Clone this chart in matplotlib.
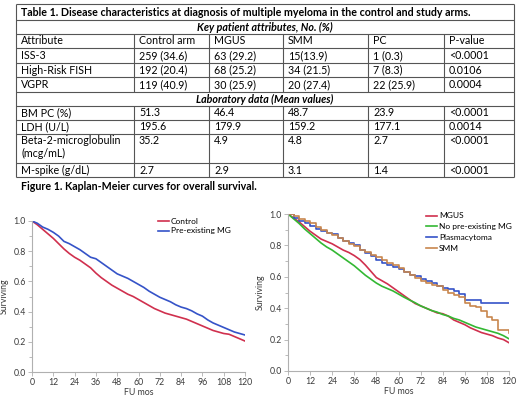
import matplotlib.pyplot as plt
import numpy as np

plt.rcParams['font.family'] = ['Lato', 'DejaVu Sans']

# ---------------- table data ----------------
title = 'Table 1. Disease characteristics at diagnosis of multiple myeloma in the control and study arms.'
section1 = 'Key patient attributes, No. (%)'
section2 = 'Laboratory data (Mean values)'
header = ['Attribute', 'Control arm', 'MGUS', 'SMM', 'PC', 'P-value']
rows1 = [
    ['ISS-3', '259 (34.6)', '63 (29.2)', '15(13.9)', '1 (0.3)', '<0.0001'],
    ['High-Risk FISH', '192 (20.4)', '68 (25.2)', '34 (21.5)', '7 (8.3)', '0.0106'],
    ['VGPR', '119 (40.9)', '30 (25.9)', '20 (27.4)', '22 (25.9)', '0.0004'],
]
rows2 = [
    ['BM PC (%)', '51.3', '46.4', '48.7', '23.9', '<0.0001'],
    ['LDH (U/L)', '195.6', '179.9', '159.2', '177.1', '0.0014'],
    ['Beta-2-microglobulin\n(mcg/mL)', '35.2', '4.9', '4.8', '2.7', '<0.0001'],
    ['M-spike (g/dL)', '2.7', '2.9', '3.1', '1.4', '<0.0001'],
]
caption = 'Figure 1. Kaplan-Meier curves for overall survival.'

# ---------------- survival data (every 3 months) ----------------
months = np.arange(0, 121, 3)

control = [1.0, 0.975, 0.945, 0.915, 0.885, 0.85, 0.815, 0.785, 0.76, 0.74, 0.715,
           0.69, 0.655, 0.625, 0.60, 0.575, 0.555, 0.535, 0.515, 0.50, 0.48,
           0.46, 0.44, 0.42, 0.405, 0.39, 0.38, 0.37, 0.36, 0.35, 0.335,
           0.32, 0.305, 0.29, 0.275, 0.265, 0.255, 0.25, 0.235, 0.22, 0.205]
pre_mg = [1.0, 0.985, 0.96, 0.945, 0.925, 0.90, 0.865, 0.85, 0.83, 0.81, 0.785,
          0.76, 0.75, 0.725, 0.70, 0.675, 0.65, 0.635, 0.62, 0.60, 0.58,
          0.56, 0.535, 0.515, 0.495, 0.48, 0.465, 0.445, 0.43, 0.42, 0.405,
          0.385, 0.37, 0.345, 0.325, 0.31, 0.295, 0.28, 0.265, 0.255, 0.245]

mgus = [1.0, 0.975, 0.95, 0.92, 0.89, 0.865, 0.84, 0.825, 0.81, 0.79, 0.77,
        0.755, 0.735, 0.71, 0.675, 0.635, 0.595, 0.575, 0.555, 0.53, 0.505,
        0.48, 0.455, 0.43, 0.415, 0.40, 0.385, 0.37, 0.365, 0.35, 0.325,
        0.31, 0.295, 0.275, 0.26, 0.245, 0.235, 0.225, 0.21, 0.20, 0.18]
no_mg = [1.0, 0.97, 0.94, 0.905, 0.875, 0.845, 0.815, 0.79, 0.77, 0.745, 0.72,
         0.695, 0.67, 0.64, 0.61, 0.585, 0.56, 0.54, 0.525, 0.51, 0.49,
         0.47, 0.452, 0.435, 0.415, 0.40, 0.385, 0.375, 0.36, 0.35, 0.335,
         0.325, 0.31, 0.295, 0.28, 0.27, 0.26, 0.25, 0.24, 0.225, 0.205]
plasmacytoma = [1.0, 0.975, 0.955, 0.94, 0.925, 0.905, 0.89, 0.88, 0.87, 0.85, 0.83,
                0.815, 0.80, 0.77, 0.75, 0.73, 0.705, 0.69, 0.675, 0.665, 0.65,
                0.63, 0.61, 0.605, 0.585, 0.575, 0.56, 0.54, 0.53, 0.525, 0.51,
                0.49, 0.455, 0.455, 0.455, 0.43, 0.43, 0.43, 0.43, 0.43, 0.43]
smm = [1.0, 0.985, 0.97, 0.955, 0.94, 0.915, 0.895, 0.88, 0.865, 0.845, 0.825,
       0.81, 0.795, 0.77, 0.755, 0.74, 0.725, 0.71, 0.69, 0.675, 0.655,
       0.63, 0.61, 0.595, 0.575, 0.56, 0.55, 0.54, 0.515, 0.50, 0.485,
       0.47, 0.435, 0.415, 0.405, 0.38, 0.345, 0.325, 0.26, 0.26, 0.24]

fig = plt.figure(figsize=(5.2, 3.96), dpi=100)

# ---------------- table, drawn in pixel coordinates ----------------
tab = fig.add_axes([0, 0, 1, 1])
tab.set_xlim(0, 520)
tab.set_ylim(396, 0)
tab.axis('off')

col_x = [16, 134, 209, 283, 368, 444, 514]
row_y = [4, 20, 34, 48, 63, 77, 92, 106, 120, 134, 163, 177]
edge = '#555555'
lw = 0.8
fs = 7.7

tab.hlines(row_y, col_x[0], col_x[-1], color=edge, lw=lw)
tab.vlines([col_x[0], col_x[-1]], row_y[0], row_y[-1], color=edge, lw=lw)
# inner vertical lines only in the data rows
for a, b in [(2, 6), (7, 11)]:
    tab.vlines(col_x[1:-1], row_y[a], row_y[b], color=edge, lw=lw)

tab.text(col_x[0] + 5, (row_y[0] + row_y[1]) / 2, title, fontsize=fs, fontweight='bold',
         va='center', ha='left')
tab.text((col_x[0] + col_x[-1]) / 2, (row_y[1] + row_y[2]) / 2, section1, fontsize=fs,
         fontweight='bold', fontstyle='italic', va='center', ha='center')
tab.text((col_x[0] + col_x[-1]) / 2, (row_y[6] + row_y[7]) / 2, section2, fontsize=fs,
         fontweight='bold', fontstyle='italic', va='center', ha='center')

for r, row in enumerate([header] + rows1):
    yc = (row_y[2 + r] + row_y[3 + r]) / 2
    for c, txt in enumerate(row):
        tab.text(col_x[c] + 5, yc, txt, fontsize=fs, va='center', ha='left')

for r, row in enumerate(rows2):
    top = row_y[7 + r]
    for c, txt in enumerate(row):
        tab.text(col_x[c] + 5, top + 1.5, txt, fontsize=fs, va='top', ha='left',
                 linespacing=1.2)

tab.text(col_x[0] + 5, 187, caption, fontsize=fs, fontweight='bold', va='center', ha='left')


# ---------------- KM plots ----------------
def style_km(ax):
    ax.set_xlim(0, 120)
    ax.set_ylim(0, 1.0)
    ax.set_xticks(np.arange(0, 121, 12))
    ax.set_yticks(np.arange(0, 1.01, 0.2))
    ax.set_yticks(np.arange(0.1, 1.0, 0.2), minor=True)
    ax.set_yticklabels(['0.0', '0.2', '0.4', '0.6', '0.8', '1.0'])
    for s in ['top', 'right']:
        ax.spines[s].set_visible(False)
    for s in ['left', 'bottom']:
        ax.spines[s].set_color('#b0b0b0')
        ax.spines[s].set_linewidth(0.8)
    ax.tick_params(which='both', colors='#b0b0b0', labelcolor='#3a3a3a', labelsize=6.3,
                   length=3, width=0.6, pad=1.5)
    ax.tick_params(which='minor', length=2)
    ax.set_xlabel('FU mos', fontsize=6.3, color='#3a3a3a', labelpad=0.5)
    ax.set_ylabel('Surviving', fontsize=6.3, color='#3a3a3a', labelpad=3)
    ax.patch.set_alpha(0)


ax1 = fig.add_axes([32 / 520, 24 / 396, 213 / 520, 151 / 396])
ax1.plot(months, control, color='#d0304e', lw=1.2, label='Control')
ax1.plot(months, pre_mg, color='#3553c8', lw=1.2, label='Pre-existing MG')
style_km(ax1)
ax1.legend(loc='upper left', bbox_to_anchor=(0.59, 1.02), frameon=False, fontsize=6.0,
           handlelength=1.3, handletextpad=0.3, labelspacing=0.3, borderaxespad=0,
           borderpad=0)

ax2 = fig.add_axes([288 / 520, 25 / 396, 221 / 520, 157 / 396])
ax2.plot(months, mgus, color='#d0304e', lw=1.2, label='MGUS')
ax2.plot(months, no_mg, color='#33b833', lw=1.2, label='No pre-existing MG')
ax2.plot(months, plasmacytoma, drawstyle='steps-post', color='#3553c8', lw=1.2, label='Plasmacytoma')
ax2.plot(months, smm, drawstyle='steps-post', color='#c8864e', lw=1.2, label='SMM')
style_km(ax2)
ax2.legend(loc='upper left', bbox_to_anchor=(0.624, 1.01), frameon=False, fontsize=6.0,
           handlelength=1.3, handletextpad=0.3, labelspacing=0.45, borderaxespad=0,
           borderpad=0)

fig.savefig('out.png', dpi=100)
